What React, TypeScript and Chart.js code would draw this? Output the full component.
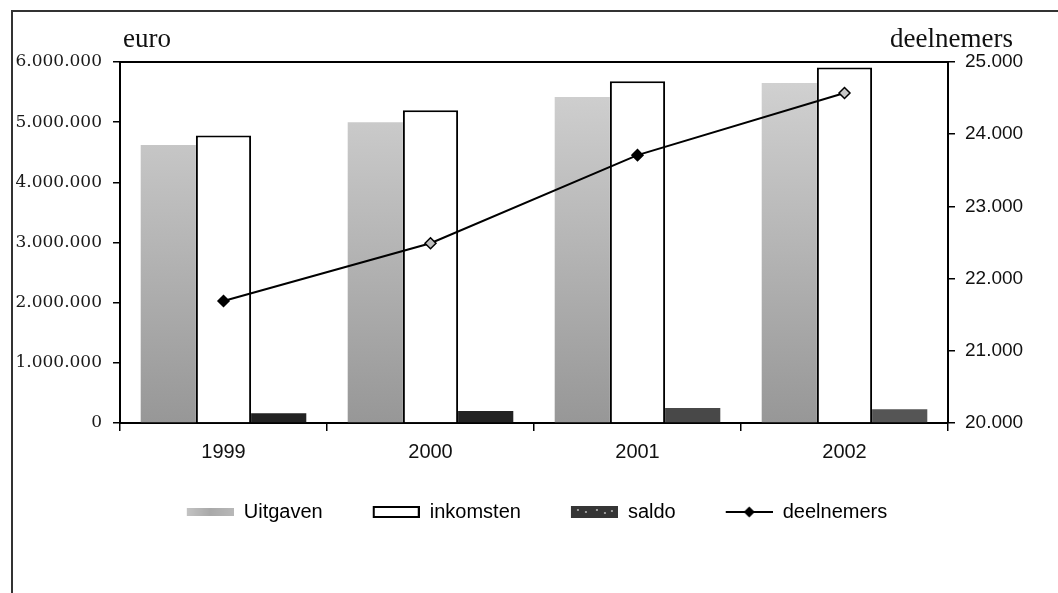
import React, { useEffect, useRef } from 'react';
import { Chart, registerables } from 'chart.js';

Chart.register(...registerables);

// ---- data ----
const years = ['1999', '2000', '2001', '2002'];
const uitgaven = [4620000, 5000000, 5420000, 5650000];
const inkomsten = [4780000, 5200000, 5680000, 5910000];
const saldo = [160000, 200000, 250000, 230000];
const deelnemers = [21690, 22490, 23710, 24570];
const seriesNames = ['Uitgaven', 'inkomsten', 'saldo', 'deelnemers'];
const leftAxisTitle = 'euro';
const rightAxisTitle = 'deelnemers';
const leftTickRange = [0, 6000000, 1000000];
const rightTickRange = [20000, 25000, 1000];

function fmt(v: number): string {
  return String(Math.round(v)).replace(/\B(?=(\d{3})+(?!\d))/g, '.');
}

const SANS = '"Liberation Sans", Arial, sans-serif';
const SERIF_TICK = '"DejaVu Serif", serif';
const SERIF_TITLE = '"Liberation Serif", "Times New Roman", serif';

const SW_OFF = 16; // transparent lead-in before each legend swatch
const SW_W = 47;

function swatch(h: number, draw: (c: CanvasRenderingContext2D) => void) {
  const cv = document.createElement('canvas');
  cv.width = SW_W + SW_OFF;
  cv.height = h;
  const c = cv.getContext('2d')!;
  c.translate(SW_OFF, 0);
  draw(c);
  return cv;
}

export default function App() {
  const ref = useRef<HTMLCanvasElement | null>(null);

  useEffect(() => {
    document.body.style.margin = '0';
    const canvas = ref.current;
    if (!canvas) return;

    const swU = swatch(8, (c) => {
      const g = c.createLinearGradient(0, 0, SW_W, 0);
      g.addColorStop(0, '#c4c4c4');
      g.addColorStop(0.5, '#a9a9a9');
      g.addColorStop(1, '#b8b8b8');
      c.fillStyle = g;
      c.fillRect(0, 0, SW_W, 8);
    });
    const swI = swatch(12, (c) => {
      c.fillStyle = '#fff';
      c.fillRect(0, 0, SW_W, 12);
      c.strokeStyle = '#000';
      c.lineWidth = 2;
      c.strokeRect(1, 1, SW_W - 2, 10);
    });
    const swS = swatch(12, (c) => {
      c.fillStyle = '#353535';
      c.fillRect(0, 0, SW_W, 12);
      c.fillStyle = '#9a9a9a';
      [[6, 3], [14, 5], [25, 3], [33, 6], [40, 4]].forEach(([x, y]) => c.fillRect(x, y, 2, 2));
    });
    const swD = swatch(14, (c) => {
      c.strokeStyle = '#000';
      c.lineWidth = 2;
      c.beginPath();
      c.moveTo(0, 7);
      c.lineTo(SW_W, 7);
      c.stroke();
      c.fillStyle = '#000';
      c.beginPath();
      c.moveTo(23.5, 1.5);
      c.lineTo(29, 7);
      c.lineTo(23.5, 12.5);
      c.lineTo(18, 7);
      c.closePath();
      c.fill();
    });
    const swatches = [swU, swI, swS, swD];

    const titlesPlugin = {
      id: 'titlesAndFrame',
      afterDraw(chart: any) {
        const { ctx, chartArea } = chart;
        ctx.save();
        ctx.strokeStyle = '#000';
        ctx.lineWidth = 2;
        ctx.beginPath();
        ctx.moveTo(chartArea.left, chartArea.top);
        ctx.lineTo(chartArea.right, chartArea.top);
        ctx.stroke();
        ctx.fillStyle = '#111';
        ctx.font = '27px ' + SERIF_TITLE;
        ctx.textBaseline = 'alphabetic';
        ctx.textAlign = 'left';
        ctx.fillText(leftAxisTitle, chartArea.left + 3, 47);
        ctx.textAlign = 'right';
        ctx.fillText(rightAxisTitle, chartArea.right + 65, 47);
        ctx.restore();
      },
    };

    const chart = new Chart(canvas, {
      type: 'bar',
      data: {
        labels: years,
        datasets: [
          {
            type: 'bar',
            label: seriesNames[0],
            data: uitgaven,
            yAxisID: 'y',
            order: 1,
            backgroundColor: (ctx: any) => {
              const area = ctx.chart.chartArea;
              if (!area) return '#b4b4b4';
              const g = ctx.chart.ctx.createLinearGradient(0, area.top, 0, area.bottom);
              g.addColorStop(0, '#d4d4d4');
              g.addColorStop(1, '#979797');
              return g;
            },
            borderWidth: 0,
            categoryPercentage: 0.8,
            barPercentage: 1.0,
          },
          {
            type: 'bar',
            label: seriesNames[1],
            data: inkomsten,
            yAxisID: 'y',
            order: 1,
            backgroundColor: '#ffffff',
            borderColor: '#000000',
            borderWidth: 2,
            categoryPercentage: 0.8,
            barPercentage: 1.0,
          },
          {
            type: 'bar',
            label: seriesNames[2],
            data: saldo,
            yAxisID: 'y',
            order: 1,
            backgroundColor: ['#222222', '#222222', '#484848', '#555555'],
            borderWidth: 0,
            categoryPercentage: 0.8,
            barPercentage: 1.0,
          },
          {
            type: 'line',
            label: seriesNames[3],
            data: deelnemers,
            yAxisID: 'y1',
            order: 0,
            borderColor: '#000000',
            borderWidth: 2,
            tension: 0,
            pointStyle: 'rectRot',
            pointRadius: 5.5,
            pointBorderWidth: 1.5,
            pointBorderColor: '#000000',
            pointBackgroundColor: ['#000000', '#bdbdbd', '#000000', '#c8c8c8'],
          },
        ],
      } as any,
      options: {
        responsive: false,
        animation: false,
        devicePixelRatio: 1,
        layout: { padding: { top: 62, left: 0, right: 0, bottom: 61 } },
        scales: {
          x: {
            type: 'category',
            offset: true,
            afterFit: (s: any) => { s.height = 45; },
            grid: { display: true, offset: true, drawOnChartArea: false, tickLength: 8, color: '#000', lineWidth: 1.5 },
            border: { display: true, color: '#000', width: 2 },
            ticks: { color: '#111', padding: 9, font: { family: SANS, size: 20 } },
          },
          y: {
            type: 'linear',
            position: 'left',
            min: leftTickRange[0],
            max: leftTickRange[1],
            afterFit: (s: any) => { s.width = 120; },
            grid: { drawOnChartArea: false, tickLength: 7, color: '#000', lineWidth: 1.5 },
            border: { display: true, color: '#000', width: 2 },
            ticks: {
              stepSize: leftTickRange[2],
              color: '#1a1a1a',
              padding: 11,
              font: { family: SERIF_TICK, size: 17 },
              callback: (v: any) => fmt(Number(v)),
            },
          },
          y1: {
            type: 'linear',
            position: 'right',
            min: rightTickRange[0],
            max: rightTickRange[1],
            afterFit: (s: any) => { s.width = 110; },
            grid: { drawOnChartArea: false, tickLength: 7, color: '#000', lineWidth: 1.5 },
            border: { display: true, color: '#000', width: 2 },
            ticks: {
              stepSize: rightTickRange[2],
              color: '#111',
              padding: 10,
              font: { family: SANS, size: 19 },
              callback: (v: any) => fmt(Number(v)),
            },
          },
        },
        plugins: {
          tooltip: { enabled: false },
          legend: {
            display: true,
            position: 'bottom',
            labels: {
              usePointStyle: true,
              pointStyleWidth: SW_W + SW_OFF,
              boxHeight: 12,
              padding: 34,
              color: '#111',
              font: { family: SANS, size: 20 },
              generateLabels: () =>
                seriesNames.map((name, i) => ({
                  text: name,
                  pointStyle: swatches[i],
                  fillStyle: '#000',
                  strokeStyle: '#000',
                  lineWidth: 0,
                  hidden: false,
                  datasetIndex: i,
                })) as any,
            },
          },
        },
      } as any,
      plugins: [titlesPlugin],
    });

    return () => {
      chart.destroy();
    };
  }, []);

  return (
    <div style={{ position: 'relative', width: 1058, height: 593, overflow: 'hidden', background: '#fff' }}>
      <div
        style={{
          position: 'absolute',
          left: 11,
          top: 10,
          width: 1200,
          height: 700,
          borderLeft: '2px solid #333',
          borderTop: '2px solid #333',
        }}
      />
      <canvas
        ref={ref}
        width={1058}
        height={593}
        style={{ position: 'absolute', left: 0, top: 0, width: 1058, height: 593 }}
      />
    </div>
  );
}
